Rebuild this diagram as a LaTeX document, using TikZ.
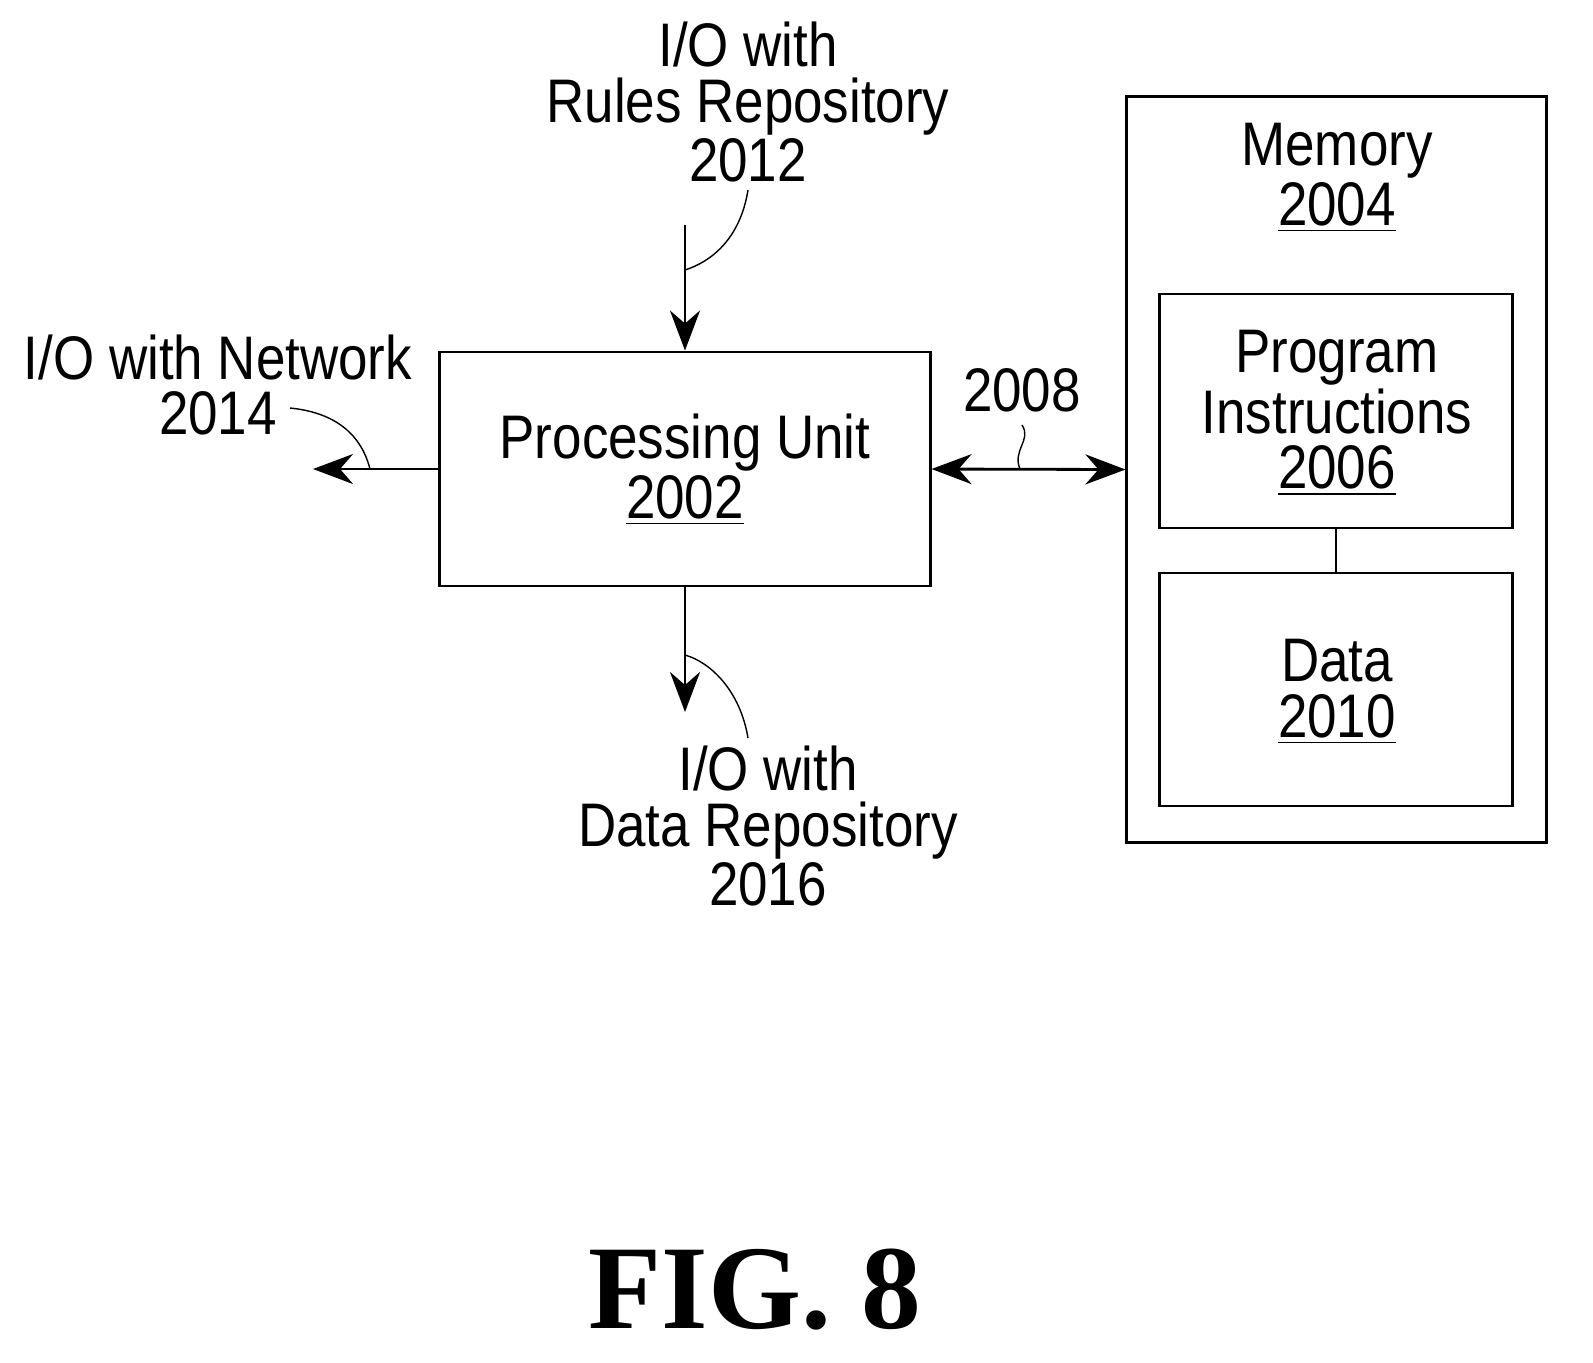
\documentclass[tikz,border=0pt]{standalone}
\usepackage{fontspec}
\setmainfont[FakeStretch=0.86]{Liberation Sans}
\newfontfamily\figfont{Liberation Serif}
\usetikzlibrary{arrows.meta,positioning}
\tikzset{
  blk/.style={draw, thick, inner sep=0pt},
  lbl/.style={align=center, inner sep=0pt, font=\fontsize{17.5}{15.8}\selectfont},
  io/.style={-{Stealth[length=4mm,width=3mm]}, thick},
  lead/.style={thin}
}
\begin{document}
\begin{tikzpicture}[x=0.01cm,y=-0.01cm]
\useasboundingbox (0,0) rectangle (1593,1362);
\node[blk, minimum width=4.9cm, minimum height=2.34cm] (pu) at (685,469) {};
\node[lbl] at (685,470) {Processing Unit\\\underline{2002}};
\node[blk, minimum width=4.19cm, minimum height=7.45cm] (mem) at (1336.5,469.5) {};
\node[lbl] at (1337,178) {Memory\\\underline{2004}};
\node[blk, minimum width=3.52cm, minimum height=2.34cm] (prog) at (1336,411) {};
\node[lbl] at (1337,413) {Program\\Instructions\\\underline{2006}};
\node[blk, minimum width=3.52cm, minimum height=2.33cm] (data) at (1336,689.5) {};
\node[lbl] at (1337,692) {Data\\\underline{2010}};
\draw[thick] (prog) -- (data);
% I/O connectors
\coordinate (rtop) at (685,225);
\coordinate (nleft) at (313,469);
\coordinate (dbot) at (685,712);
\draw[io] (rtop) -- (pu.north);
\draw[io] (pu.west) -- (nleft);
\draw[io] (pu.south) -- (dbot);
\draw[{Stealth[length=4mm,width=3mm]}-{Stealth[length=4mm,width=3mm]}, thick] (pu.east) -- (mem.west);
\node[lbl] (rules) at (748,102) {I/O with\\Rules Repository\\2012};
\node[lbl] (net) at (218,385) {I/O with Network\\2014};
\node[lbl] (bus) at (1022,390) {2008};
\node[lbl] (drepo) at (768,826) {I/O with\\Data Repository\\2016};
% leader lines
\draw[lead] (748,190) .. controls (740,240) and (710,262) .. (685,270);
\draw[lead] (290,408) .. controls (330,412) and (360,430) .. (370,469);
\draw[lead] (1022,425) .. controls (1032,440) and (1012,450) .. (1020,469);
\draw[lead] (748,738) .. controls (740,690) and (710,662) .. (685,655);
\node[font=\figfont\bfseries\fontsize{34}{40}\selectfont] (fig) at (755,1290) {FIG. 8};
\end{tikzpicture}
\end{document}
